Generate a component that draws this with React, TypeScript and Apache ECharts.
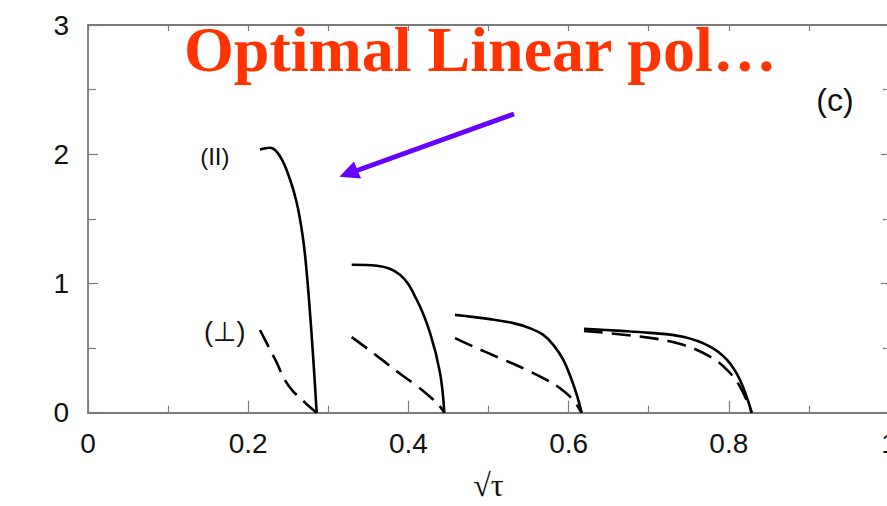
import React, { useEffect, useRef } from 'react';
import * as echarts from 'echarts';

// Curves in (sqrt(tau), value) coordinates; solid = parallel, dashed = perpendicular
const parallelA = [[0.2147, 2.036], [0.2272, 2.05], [0.2397, 1.984], [0.2522, 1.804], [0.2605, 1.626], [0.2668, 1.417], [0.2709, 1.223], [0.2759, 0.874], [0.2809, 0.447], [0.2855, 0]];
const perpA = [[0.2147, 0.64], [0.225, 0.515], [0.235, 0.395], [0.246, 0.25], [0.2563, 0.163], [0.265, 0.115], [0.273, 0.065], [0.2855, 0]];

const parallelB = [[0.3292, 1.145], [0.3608, 1.137], [0.3895, 1.067], [0.4104, 0.874], [0.427, 0.618], [0.4395, 0.308], [0.4448, 0]];
const perpB = [[0.3292, 0.585], [0.35, 0.49], [0.37, 0.395], [0.39, 0.3], [0.41, 0.21], [0.427, 0.124], [0.4395, 0.047], [0.4448, 0]];

const parallelC = [[0.4582, 0.757], [0.5019, 0.724], [0.531, 0.693], [0.5518, 0.654], [0.5684, 0.602], [0.5809, 0.525], [0.5934, 0.409], [0.6039, 0.253], [0.6109, 0.124], [0.6163, 0]];
const perpC = [[0.4582, 0.577], [0.481, 0.512], [0.5144, 0.422], [0.5477, 0.331], [0.5727, 0.253], [0.5893, 0.189], [0.6059, 0.098], [0.6142, 0.021], [0.6163, 0]];

const parallelD = [[0.6192, 0.649], [0.66, 0.635], [0.7016, 0.618], [0.7428, 0.587], [0.7765, 0.512], [0.7978, 0.409], [0.814, 0.253], [0.8286, 0]];
const perpD = [[0.6192, 0.633], [0.7016, 0.579], [0.7428, 0.525], [0.7765, 0.434], [0.7978, 0.331], [0.814, 0.202], [0.8286, 0]];

const xTickLabels = ['0', '0.2', '0.4', '0.6', '0.8', '1'];
const yTickLabels = ['0', '1', '2', '3'];

const AXIS_GRAY = '#7a7a7a';
const SANS = "'Liberation Sans', 'DejaVu Sans', sans-serif";

function curve(data: number[][], dashed: boolean, labelText?: string, labelOpts?: any) {
  const s: any = {
    type: 'line',
    data,
    showSymbol: false,
    smooth: 0.4,
    lineStyle: { color: '#000', width: 2.6, type: dashed ? [19, 9] : 'solid', cap: 'butt', join: 'round' },
    silent: true,
  };
  if (labelText) {
    s.markPoint = {
      symbol: 'circle',
      symbolSize: 1,
      itemStyle: { color: 'transparent' },
      data: [{ coord: data[0] }],
      label: {
        show: true,
        formatter: labelText,
        position: 'left',
        color: '#111',
        fontFamily: SANS,
        ...labelOpts,
      },
    };
  }
  return s;
}

const mirrorTick = { show: true, inside: true, length: 6, lineStyle: { color: AXIS_GRAY, width: 1.2 } };

const option: any = {
  animation: false,
  backgroundColor: '#fff',
  // the plot frame runs just past the right edge of the visible page
  grid: { left: 88, top: 25, width: 801, height: 387.7 },
  xAxis: [
    {
      type: 'value', min: 0, max: 1, interval: 0.2,
      axisLine: { show: true, onZero: false, lineStyle: { color: AXIS_GRAY, width: 1.8 } },
      axisTick: { show: true, inside: true, length: 12, lineStyle: { color: AXIS_GRAY, width: 1.2 } },
      minorTick: { show: true, splitNumber: 2, length: 7, lineStyle: { color: AXIS_GRAY, width: 1.2 } },
      splitLine: { show: false },
      axisLabel: {
        margin: 17, fontSize: 28, color: '#111', fontFamily: SANS,
        formatter: (v: number) => xTickLabels[Math.round(v / 0.2)],
      },
      name: '√τ', nameLocation: 'middle', nameGap: 56,
      nameTextStyle: { fontSize: 32, color: '#111', fontFamily: "'Liberation Serif', 'DejaVu Serif', serif" },
    },
    {
      type: 'value', min: 0, max: 1, interval: 0.2, position: 'top',
      axisLine: { show: true, onZero: false, lineStyle: { color: AXIS_GRAY, width: 1.8 } },
      axisTick: mirrorTick,
      minorTick: { show: true, splitNumber: 2, length: 6, lineStyle: { color: AXIS_GRAY, width: 1.2 } },
      splitLine: { show: false },
      axisLabel: { show: false },
    },
  ],
  yAxis: [
    {
      type: 'value', min: 0, max: 3, interval: 1,
      axisLine: { show: true, onZero: false, lineStyle: { color: AXIS_GRAY, width: 1.8 } },
      axisTick: { show: true, inside: true, length: 10, lineStyle: { color: AXIS_GRAY, width: 1.2 } },
      minorTick: { show: true, splitNumber: 2, length: 8, lineStyle: { color: AXIS_GRAY, width: 1.2 } },
      splitLine: { show: false },
      axisLabel: {
        margin: 19, fontSize: 28, color: '#111', fontFamily: SANS,
        formatter: (v: number) => yTickLabels[Math.round(v)],
      },
    },
    {
      type: 'value', min: 0, max: 3, interval: 1, position: 'right',
      axisLine: { show: true, onZero: false, lineStyle: { color: AXIS_GRAY, width: 1.8 } },
      axisTick: { ...mirrorTick, length: 8 },
      minorTick: { show: true, splitNumber: 2, length: 6, lineStyle: { color: AXIS_GRAY, width: 1.2 } },
      splitLine: { show: false },
      axisLabel: { show: false },
    },
  ],
  series: [
    curve(parallelA, false, '(II)', { fontSize: 24, distance: 30, offset: [0, 7] }),
    curve(perpA, true, '(⊥)', { fontSize: 27, distance: 14, offset: [0, 2] }),
    curve(parallelB, false),
    curve(perpB, true),
    curve(parallelC, false),
    curve(perpC, true),
    curve(parallelD, false),
    curve(perpD, true),
  ],
  graphic: [
    {
      type: 'text', left: 184, top: 17,
      style: {
        text: 'Optimal Linear pol…',
        fill: '#FF3300',
        font: "bold 64px 'Liberation Serif', 'Times New Roman', serif",
      },
    },
    {
      type: 'text', x: 835, y: 100,
      style: {
        text: '(c)', fill: '#111', fontSize: 32, fontFamily: SANS,
        align: 'center', verticalAlign: 'middle',
      },
    },
    {
      type: 'line',
      shape: { x1: 514, y1: 114, x2: 357, y2: 170.5 },
      style: { stroke: '#6600FF', lineWidth: 5 },
    },
    {
      type: 'polygon',
      shape: { points: [[339.3, 176.7], [354, 161.5], [361, 178.5]] },
      style: { fill: '#6600FF' },
    },
  ],
};

export default function App() {
  const ref = useRef<HTMLDivElement>(null);
  useEffect(() => {
    const chart = echarts.init(ref.current!, null, { renderer: 'svg' });
    chart.setOption(option);
    return () => chart.dispose();
  }, []);
  return (
    <div style={{ position: 'fixed', left: 0, top: 0, width: 887, height: 506, overflow: 'hidden', background: '#fff' }}>
      <div ref={ref} style={{ width: 900, height: 506 }} />
    </div>
  );
}
